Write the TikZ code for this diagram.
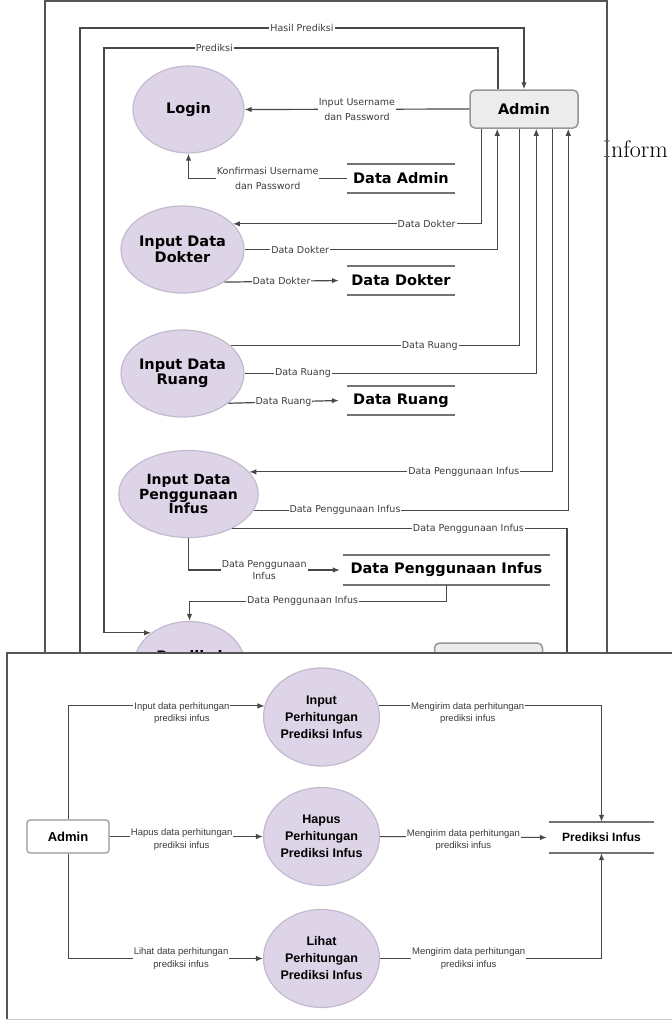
\documentclass[tikz,border=0pt]{standalone}
\usepackage{fontspec}
\usepackage{tikz}
\usetikzlibrary{shapes.geometric}
\usetikzlibrary{arrows.meta}
\newfontfamily\verdfont{DejaVu Sans}
\newfontfamily\arialfont{Liberation Sans}
\definecolor{ungu}{RGB}{221,212,232}
\definecolor{unguline}{RGB}{196,186,208}
\definecolor{garis}{RGB}{72,72,72}
\definecolor{kotak}{RGB}{236,236,236}
\definecolor{kotakline}{RGB}{150,150,150}
\definecolor{bingkai}{RGB}{85,85,85}
\definecolor{teks}{RGB}{60,60,60}
\newcommand{\datastore}[5][]{\node[store,#1] (#2) at (#3,#4) {#5};
  \draw[storeline] (#2.north west) -- (#2.north east) (#2.south west) -- (#2.south east);}
\tikzset{
  proses/.style={ellipse, draw=unguline, fill=ungu, line width=1.2pt, minimum width=111pt,
    minimum height=87pt, inner sep=0pt, align=center, font=\verdfont\bfseries\fontsize{14.5}{15.5}\selectfont},
  prosesb/.style={proses, minimum width=95pt, minimum height=98pt, font=\arialfont\bfseries\fontsize{12.5}{17}\selectfont},
  entity/.style={rectangle, rounded corners=5pt, draw=kotakline, fill=kotak, line width=1.5pt,
    minimum width=108pt, minimum height=38pt, font=\verdfont\bfseries\fontsize{14.5}{16}\selectfont},
  entityb/.style={entity, rounded corners=3pt, fill=white, line width=1.2pt, minimum width=82pt,
    minimum height=33pt, font=\arialfont\bfseries\fontsize{13}{15}\selectfont},
  store/.style={draw=none, minimum width=108pt, minimum height=29pt, inner sep=0pt,
    font=\verdfont\bfseries\fontsize{14.5}{16}\selectfont},
  storeb/.style={minimum width=105pt, minimum height=31pt, font=\arialfont\bfseries\fontsize{12}{14}\selectfont},
  storeline/.style={draw={rgb,255:red,115;green,115;blue,115}, line width=1.5pt},
  garis/.style={draw=garis, line width=1.2pt},
  flow/.style={garis, -{Latex[length=7pt,width=5.5pt]}},
  flowb/.style={flow, line width=1pt},
  lbl/.style={fill=white, inner sep=1pt, align=center, text=teks, font=\verdfont\fontsize{9.5}{15}\selectfont},
  lblb/.style={lbl, font=\arialfont\fontsize{9.5}{12.5}\selectfont},
  judul/.style={font=\verdfont\bfseries\fontsize{14.5}{16}\selectfont},
}

\begin{document}
\begin{tikzpicture}[x=1pt,y=-1pt]
\useasboundingbox (0,0) rectangle (672,1026);
% layar atas
\node[anchor=base west, inner sep=0pt, font=\fontsize{24}{28}\selectfont] (inform) at (603,157) {Inform};
\draw[draw=bingkai, line width=2pt] (45,1) rectangle (607,720);
% entitas dan proses
\node[entity] (admin) at (524,109) {Admin};
\node[proses] (login) at (188.5,109.5) {Login};
\node[proses] (dokter) at (182.5,249.5) {Input Data\\Dokter};
\node[proses] (ruang) at (182.5,373.5) {Input Data\\Ruang};
\node[proses, font=\verdfont\bfseries\fontsize{14}{14.5}\selectfont] (penggunaan) at (188.5,494) {Input Data\\Penggunaan\\Infus};
\node[proses] (prediksi) at (189.5,665) {};
\node[judul] (prediksiteks) at (189.5,656) {Prediksi};
\node[entity] (entitas) at (488.5,662) {};
% data store
\datastore{dataadmin}{401}{178.5}{Data Admin}
\datastore{datadokter}{401}{280.5}{Data Dokter}
\datastore{dataruang}{401}{400.5}{Data Ruang}
\datastore[minimum width=207pt, minimum height=30pt]{datainfus}{446.5}{570}{Data Penggunaan Infus}
% titik bantu
\coordinate (hasil) at (80,720);
\coordinate (hasilatas) at (80,28);
\coordinate (prediksiatas) at (498,48);
\coordinate (prediksikiri) at (104,48);
\coordinate (infusbawah) at (567,720);
% alur data
\draw[flow] (hasil) -- (hasilatas) -- node[lbl]{Hasil Prediksi} (hasilatas -| admin.north) -- (admin.north);
\draw[flow] (prediksiatas |- admin.north) -- (prediksiatas) -- node[lbl,pos=0.72]{Prediksi} (prediksikiri) |- (prediksi.140);
\draw[flow] (admin.west) -- node[lbl]{Input Username\\dan Password} (login.east);
\draw[flow] (dataadmin.west) -| node[lbl,pos=0.25]{Konfirmasi Username\\dan Password} (login.south);
\draw[flow] ([xshift=12pt]admin.south west) |- node[lbl,pos=0.61]{Data Dokter} (dokter.27);
\draw[flow] (dokter.east) -| node[lbl,pos=0.11]{Data Dokter} ([xshift=28pt]admin.south west);
\draw[flow] (dokter.-38) -- node[lbl]{Data Dokter} ([xshift=-8pt]datadokter.west);
\draw[garis] ([xshift=50pt]admin.south west) |- node[lbl,pos=0.655]{Data Ruang} (ruang.30);
\draw[flow] (ruang.east) -| node[lbl,pos=0.1]{Data Ruang} ([xshift=67pt]admin.south west);
\draw[flow] (ruang.-33) -- node[lbl]{Data Ruang} ([xshift=-8pt]dataruang.west);
\draw[flow] ([xshift=83pt]admin.south west) |- node[lbl,pos=0.646]{Data Penggunaan Infus} (penggunaan.20);
\draw[flow] (penggunaan.-14) -| node[lbl,pos=0.145]{Data Penggunaan Infus} ([xshift=99pt]admin.south west);
\draw[garis] (penggunaan.-39) -| node[lbl,pos=0.353]{Data Penggunaan Infus} (infusbawah);
\draw[flow] (penggunaan.south) |- node[lbl,pos=0.75,font=\verdfont\fontsize{9.5}{12}\selectfont]{Data Penggunaan\\Infus} ([xshift=-3pt]datainfus.west);
\draw[flow] (datainfus.south) -- ++(0,16) -| node[lbl,pos=0.28]{Data Penggunaan Infus} (prediksi.north);

% layar bawah
\fill[white] (7,653) rectangle (700,1019);
\draw[draw=bingkai, line width=1.5pt] (700,653) -- (7,653) -- (7,1019);
\draw[draw=black!20, line width=1pt] (7,1019) -- (700,1019);
\node[entityb] (adminb) at (68,836.5) {Admin};
\node[prosesb] (inputhitung) at (321.5,717) {Input\\Perhitungan\\Prediksi Infus};
\node[prosesb] (hapushitung) at (321.5,836.5) {Hapus\\Perhitungan\\Prediksi Infus};
\node[prosesb] (lihathitung) at (321.5,958.5) {Lihat\\Perhitungan\\Prediksi Infus};
\datastore[storeb]{prediksiinfus}{601.5}{837.5}{Prediksi Infus}
\draw[flowb] (adminb.north) |- node[lblb,pos=0.79,yshift=-7pt]{Input data perhitungan\\prediksi infus} (inputhitung.169);
\draw[flowb] (inputhitung.11) -| node[lblb,pos=0.2,yshift=-7pt]{Mengirim data perhitungan\\prediksi infus} (prediksiinfus.north);
\draw[flowb] (adminb.east) -- node[lblb,pos=0.47,yshift=-3pt]{Hapus data perhitungan\\prediksi infus} (hapushitung.west);
\draw[flowb] (hapushitung.east) -- node[lblb,yshift=-3pt]{Mengirim data perhitungan\\prediksi infus} ([xshift=-2pt]prediksiinfus.west);
\draw[flowb] (adminb.south) |- node[lblb,pos=0.79]{Lihat data perhitungan\\prediksi infus} (lihathitung.west);
\draw[flowb] (lihathitung.east) -| node[lblb,pos=0.2]{Mengirim data perhitungan\\prediksi infus} (prediksiinfus.south);
\end{tikzpicture}
\end{document}
